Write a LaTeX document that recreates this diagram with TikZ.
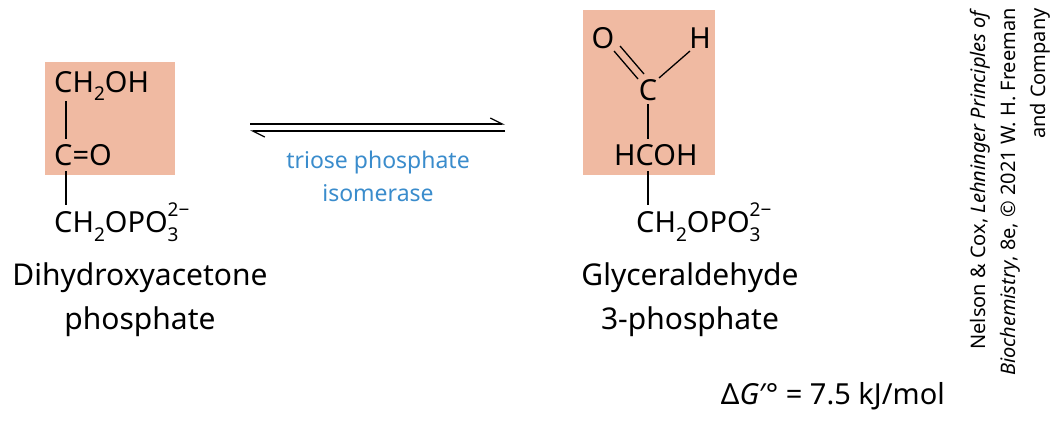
\documentclass[tikz,border=0pt]{standalone}
\usepackage{fontspec}
\setmainfont{Noto Sans}
\usetikzlibrary{arrows.meta}
\definecolor{hl}{RGB}{240,186,162}
\definecolor{enz}{RGB}{58,140,204}
\newcommand{\sbx}[1]{\raisebox{-0.3em}{\fontsize{19}{19}\selectfont #1}}
\newcommand{\chg}[2]{\rlap{\raisebox{0.55em}{\fontsize{19}{19}\selectfont #2}}\raisebox{-0.3em}{\fontsize{19}{19}\selectfont #1}\hspace{1.1em}}
\begin{document}
\begin{tikzpicture}[x=1pt,y=-1pt,
  chem/.style={font=\fontsize{29}{33}\selectfont,inner sep=0pt},
  lab/.style={font=\fontsize{30}{44}\selectfont,align=center,inner sep=0pt},
  bond/.style={line width=1.3pt}]
\useasboundingbox (0,0) rectangle (1060,428);
\fill[hl] (45,62) rectangle (175,175);
\fill[hl] (583,10) rectangle (715,175);
% left molecule
\node[chem,anchor=west] (l1) at (54,86) {CH\sbx{2}OH};
\node[chem,anchor=west] (l2) at (54,155) {C=O};
\node[chem,anchor=west] (l3) at (54,222) {CH\sbx{2}OPO\chg{3}{2−}};
\draw[bond] (66,101) -- (66,139);
\draw[bond] (66,171) -- (66,205);
\node[lab] (ln) at (140,300) {Dihydroxyacetone\\phosphate};
% arrows
\coordinate (a1) at (250,124); \coordinate (a2) at (505,124);
\coordinate (b1) at (250,131); \coordinate (b2) at (505,131);
\draw[line width=1.3pt,-{Straight Barb[left,length=12pt,width=12pt]}] (a1) -- (a2);
\draw[line width=1.3pt,-{Straight Barb[left,length=12pt,width=12pt]}] (b2) -- (b1);
\node[lab,text=enz,font=\fontsize{23}{33}\selectfont] (enzn) at (378,176) {triose phosphate\\isomerase};
% right molecule
\node[chem] (o) at (603,38) {O};
\node[chem] (h) at (700,38) {H};
\node[chem] (c) at (648,90) {C};
\node[chem,anchor=west] (r2) at (614,155) {HCOH};
\node[chem,anchor=west] (r3) at (636,222) {CH\sbx{2}OPO\chg{3}{2−}};
\draw[bond] (614,51) -- (638,79);
\draw[bond] (620,46) -- (644,74);
\draw[bond] (690,51) -- (659,78);
\draw[bond] (648,104) -- (648,139);
\draw[bond] (648,171) -- (648,205);
\node[lab] (rn) at (690,300) {Glyceraldehyde\\3-phosphate};
\node[chem,anchor=east] (dg) at (945,396) {Δ\textit{G}′° = 7.5 kJ/mol};
\node[rotate=90,anchor=north east,align=right,inner sep=0pt,font=\fontsize{20}{30}\selectfont] (cr) at (970,8)
 {Nelson \& Cox, \textit{Lehninger Principles of}\\\textit{Biochemistry}, 8e, © 2021 W. H. Freeman\\and Company};
\end{tikzpicture}
\end{document}
